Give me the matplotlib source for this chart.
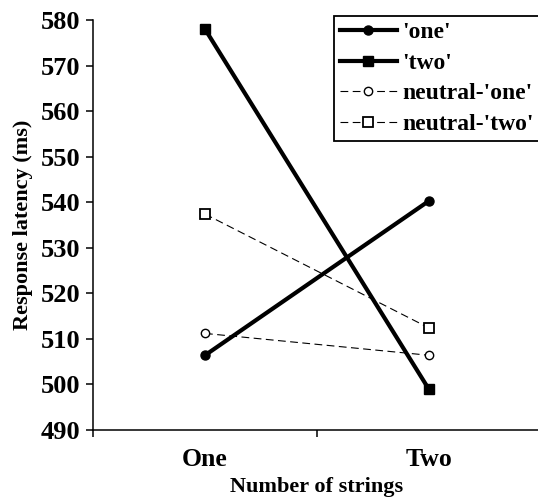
import matplotlib as mpl
mpl.use("Agg")
import matplotlib.pyplot as plt

mpl.rcParams.update({
    "font.family": "Liberation Serif",
    "font.weight": "bold",
})

categories = ["One", "Two"]
one_vals = [506.4, 540.3]
two_vals = [578.0, 498.9]
neutral_one_vals = [511.2, 506.4]
neutral_two_vals = [537.4, 512.4]

fig = plt.figure(figsize=(5.38, 4.98), dpi=100)
ax = fig.add_axes([93/538, 68/498, 448/538, 410/498])

x = list(range(len(categories)))
ax.plot(x, one_vals, color='black', linewidth=3.0, marker='o', markersize=6.5,
        label="'one'")
ax.plot(x, two_vals, color='black', linewidth=3.0, marker='s', markersize=7.5,
        label="'two'")
ax.plot(x, neutral_one_vals, color='black', linewidth=0.8, dashes=(7, 4),
        marker='o', markersize=6, markerfacecolor='white', markeredgewidth=1.0,
        label="neutral-'one'")
ax.plot(x, neutral_two_vals, color='black', linewidth=0.8, dashes=(7, 4),
        marker='s', markersize=7, markerfacecolor='white', markeredgewidth=1.3,
        label="neutral-'two'")

ax.set_xlim(-0.5, 1.5)
ax.set_ylim(490, 580)
ax.set_yticks(range(490, 581, 10))
ax.set_xticks([-0.5, 0.5, 1.5])
ax.set_xticklabels([])
ax.set_xticks(x, minor=True)
ax.set_xticklabels(categories, minor=True, fontsize=18.5, fontweight='bold')
ax.tick_params(axis='x', which='minor', length=0, pad=13)
ax.tick_params(axis='both', which='major', direction='out', length=5, width=1.1,
               labelsize=19)
ax.tick_params(axis='y', pad=4)

for s in ['top', 'right']:
    ax.spines[s].set_visible(False)
for s in ['left', 'bottom']:
    ax.spines[s].set_linewidth(1.1)

ax.set_xlabel("Number of strings", fontsize=16, fontweight='bold', labelpad=4)
ax.set_ylabel("Response latency (ms)", fontsize=16, fontweight='bold', labelpad=6)

leg = ax.legend(loc='upper left', bbox_to_anchor=(334/538, 1 - 16/498),
                bbox_transform=fig.transFigure, frameon=True, fancybox=False,
                edgecolor='black', framealpha=1, fontsize=17, labelspacing=0.38,
                handlelength=2.4, handletextpad=0.25, borderpad=0.25,
                borderaxespad=0)
leg.get_frame().set_linewidth(1.3)

plt.savefig("out.png", dpi=100)
